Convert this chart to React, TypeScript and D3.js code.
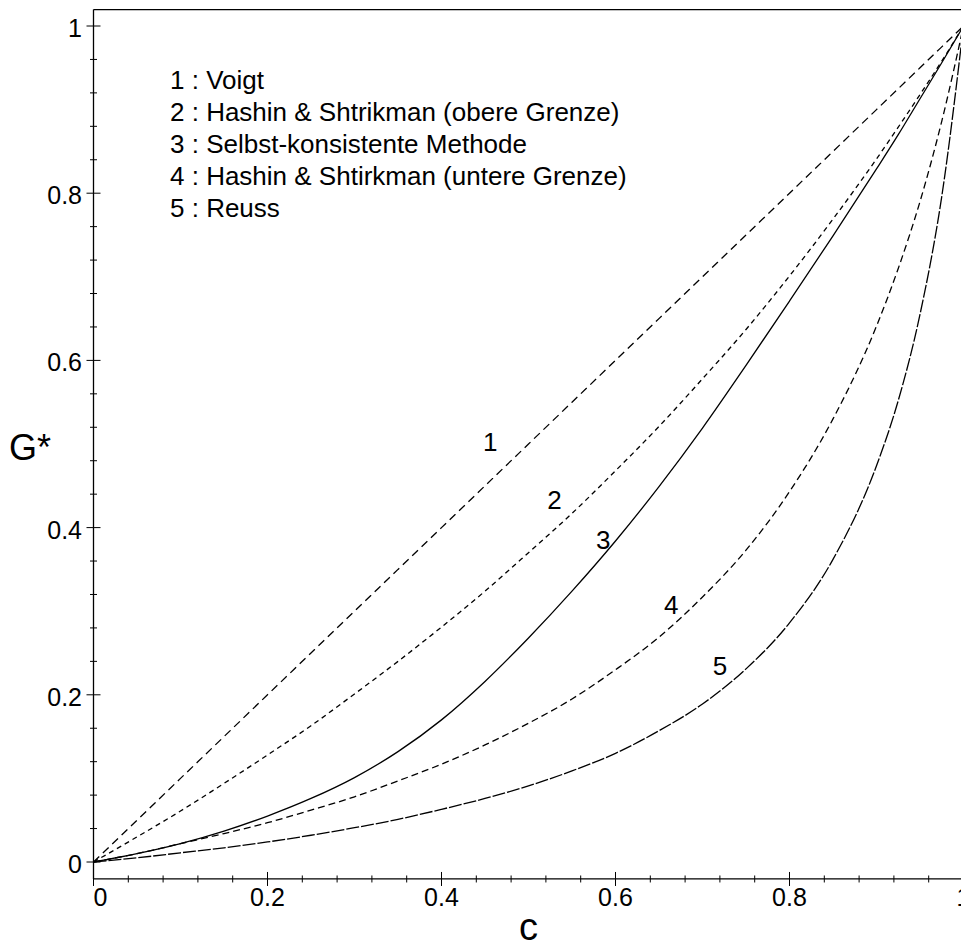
import React, { useEffect, useRef } from "react";
import * as d3 from "d3";

// volume fraction c
const cValues = [0, 0.05, 0.1, 0.15, 0.2, 0.25, 0.3, 0.35, 0.4, 0.45, 0.5, 0.55, 0.6, 0.65, 0.7, 0.75, 0.8, 0.85, 0.9, 0.925, 0.95, 0.975, 1];

// G*, one list per curve
const voigt = [0, 0.05, 0.1, 0.15, 0.2, 0.25, 0.3, 0.35, 0.4, 0.45, 0.5, 0.55, 0.6, 0.65, 0.7, 0.75, 0.8, 0.85, 0.9, 0.925, 0.95, 0.975, 1];
const hsUpper = [0, 0.030, 0.061, 0.094, 0.128, 0.163, 0.201, 0.240, 0.281, 0.324, 0.370, 0.417, 0.468, 0.521, 0.578, 0.637, 0.701, 0.769, 0.841, 0.879, 0.918, 0.958, 1];
const selfConsistent = [0, 0.010, 0.022, 0.037, 0.055, 0.076, 0.101, 0.132, 0.170, 0.216, 0.268, 0.324, 0.384, 0.449, 0.519, 0.594, 0.671, 0.749, 0.829, 0.870, 0.913, 0.956, 1];
const hsLower = [0, 0.010, 0.022, 0.034, 0.047, 0.062, 0.078, 0.097, 0.117, 0.140, 0.166, 0.195, 0.230, 0.269, 0.317, 0.373, 0.443, 0.530, 0.641, 0.710, 0.790, 0.886, 1];
const reuss = [0, 0.005, 0.011, 0.017, 0.024, 0.032, 0.041, 0.051, 0.063, 0.076, 0.091, 0.109, 0.130, 0.157, 0.189, 0.231, 0.286, 0.362, 0.474, 0.552, 0.655, 0.796, 1];

const legendLines = [
  "1 : Voigt",
  "2 : Hashin & Shtrikman (obere Grenze)",
  "3 : Selbst-konsistente Methode",
  "4 : Hashin & Shtirkman (untere Grenze)",
  "5 : Reuss",
];

// curve number labels, in data coordinates
const labelText = ["1", "2", "3", "4", "5"];
const labelC = [0.456, 0.530, 0.586, 0.664, 0.720];
const labelG = [0.502, 0.433, 0.385, 0.307, 0.235];

const xTicks = [0, 0.2, 0.4, 0.6, 0.8, 1];
const yTicks = [0, 0.2, 0.4, 0.6, 0.8, 1];

const FONT = "'Liberation Sans', Arial, sans-serif";

export default function App() {
  const ref = useRef<SVGSVGElement>(null);

  useEffect(() => {
    const svg = d3.select(ref.current);
    svg.selectAll("*").remove();

    const x = d3.scaleLinear().domain([0, 1]).range([93.5, 963.5]);
    const y = d3.scaleLinear().domain([0, 1]).range([862, 26]);

    const x0 = x(0);
    const yBottom = y(-0.0203);
    const yTop = y(1.0197);

    // frame: left axis, bottom axis, top line
    svg.append("line")
      .attr("x1", x0).attr("x2", x0)
      .attr("y1", yTop).attr("y2", yBottom)
      .attr("stroke", "black").attr("stroke-width", 1.3);
    svg.append("line")
      .attr("x1", x0).attr("x2", 961)
      .attr("y1", yBottom).attr("y2", yBottom)
      .attr("stroke", "black").attr("stroke-width", 1.3);
    svg.append("line")
      .attr("x1", x0).attr("x2", 961)
      .attr("y1", yTop).attr("y2", yTop)
      .attr("stroke", "black").attr("stroke-width", 1.3);

    const minor = d3.range(0, 1.0001, 0.04);
    const isMajor = (d: number) => Math.abs(d * 5 - Math.round(d * 5)) < 1e-6;

    // y ticks
    svg.append("g").selectAll("line")
      .data(minor)
      .enter()
      .append("line")
      .attr("x1", (d) => x0 - (isMajor(d) ? 7 : 3.5))
      .attr("x2", (d) => x0 + (isMajor(d) ? 7 : 3.5))
      .attr("y1", (d) => y(d)).attr("y2", (d) => y(d))
      .attr("stroke", "black").attr("stroke-width", 1);

    // x ticks
    svg.append("g").selectAll("line")
      .data(minor)
      .enter()
      .append("line")
      .attr("x1", (d) => x(d)).attr("x2", (d) => x(d))
      .attr("y1", (d) => yBottom - (isMajor(d) ? 7 : 3.5))
      .attr("y2", (d) => yBottom + (isMajor(d) ? 7 : 3.5))
      .attr("stroke", "black").attr("stroke-width", 1);

    // tick labels
    svg.append("g").selectAll("text")
      .data(yTicks)
      .enter()
      .append("text")
      .attr("x", 82)
      .attr("y", (d) => y(d) + 11)
      .attr("text-anchor", "end")
      .attr("font-family", FONT)
      .attr("font-size", 25)
      .text((d) => d3.format("~g")(d));

    svg.append("g").selectAll("text")
      .data(xTicks)
      .enter()
      .append("text")
      .attr("x", (d) => (d === 0 ? x(d) + 7 : x(d)))
      .attr("y", 906)
      .attr("text-anchor", "middle")
      .attr("font-family", FONT)
      .attr("font-size", 25)
      .text((d) => d3.format("~g")(d));

    // axis titles
    svg.append("text")
      .attr("x", 9).attr("y", 460)
      .attr("font-family", FONT).attr("font-size", 36)
      .text("G*");
    svg.append("text")
      .attr("x", (x(0) + x(1)) / 2).attr("y", 940)
      .attr("text-anchor", "middle")
      .attr("font-family", FONT).attr("font-size", 38)
      .text("c");

    // curves
    const line = d3.line<number>()
      .x((d, i) => x(cValues[i]))
      .y((d) => y(d))
      .curve(d3.curveMonotoneX);

    const series = [
      { values: voigt, dash: "8,5" },
      { values: hsUpper, dash: "5,4" },
      { values: selfConsistent, dash: null },
      { values: hsLower, dash: "7,4" },
      { values: reuss, dash: "13,2" },
    ];

    series.forEach((s) => {
      svg.append("path")
        .attr("d", line(s.values))
        .attr("fill", "none")
        .attr("stroke", "black")
        .attr("stroke-width", 1.3)
        .attr("stroke-dasharray", s.dash);
    });

    // curve numbers
    svg.append("g").selectAll("text")
      .data(labelText)
      .enter()
      .append("text")
      .attr("x", (d, i) => x(labelC[i]))
      .attr("y", (d, i) => y(labelG[i]) + 9)
      .attr("text-anchor", "middle")
      .attr("font-family", FONT)
      .attr("font-size", 26)
      .text((d) => d);

    // legend
    svg.append("g").selectAll("text")
      .data(legendLines)
      .enter()
      .append("text")
      .attr("x", 170)
      .attr("y", (d, i) => 89 + i * 31.9)
      .attr("font-family", FONT)
      .attr("font-size", 26)
      .text((d) => d);
  }, []);

  return (
    <svg
      ref={ref}
      width={961}
      height={950}
      style={{ position: "absolute", left: 0, top: 0, background: "white" }}
    />
  );
}
